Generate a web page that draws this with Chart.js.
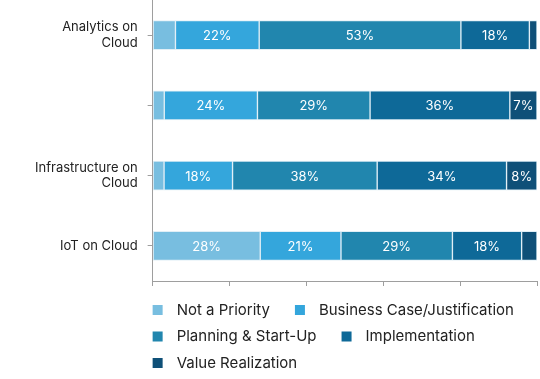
<!DOCTYPE html>
<html>
<head>
<meta charset="utf-8">
<script src="https://cdn.jsdelivr.net/npm/chart.js"></script>
<style>
  body { margin: 0; background: #fff; }
  #caja { width: 540px; height: 379px; position: relative; }
</style>
</head>
<body>
<div id="caja"><canvas id="grafica"></canvas></div>
<script>
const categorias = [["Analytics on", "Cloud"], "", ["Infrastructure on", "Cloud"], "IoT on Cloud"];

const series = ["Not a Priority", "Business Case/Justification", "Planning & Start-Up", "Implementation", "Value Realization"];
const colores = ["#78bee0", "#34a6dc", "#2186ae", "#0e6998", "#0f5078"];

// valores en %
const notPriority = [6, 3, 3, 28];
const businessCase = [22, 24, 18, 21];
const planning = [53, 29, 38, 29];
const implementation = [18, 36, 34, 18];
const valueRealization = [2, 7, 8, 4];

const valores = [notPriority, businessCase, planning, implementation, valueRealization];

// barras al 100% como en excel
const totales = categorias.map((c, j) => valores.reduce((s, v) => s + v[j], 0));

const fuente = "Inter, 'DejaVu Sans', sans-serif";
const gris = "#9e9e9e";

// etiquetas blancas dentro de cada tramo
const etiquetas = {
  id: "etiquetas",
  afterDatasetsDraw(chart) {
    const ctx = chart.ctx;
    ctx.save();
    ctx.font = "13px " + fuente;
    ctx.fillStyle = "#fff";
    ctx.textAlign = "center";
    ctx.textBaseline = "middle";
    chart.data.datasets.forEach((ds, i) => {
      chart.getDatasetMeta(i).data.forEach((bar, j) => {
        const v = valores[i][j];
        if (v < 7) return;
        ctx.fillText(v + "%", (bar.x + bar.base) / 2, bar.y + 1);
      });
    });
    ctx.restore();
  }
};

// leyenda abajo, alineada con el eje
const leyenda = {
  id: "leyenda",
  afterDraw(chart) {
    const { ctx, chartArea } = chart;
    ctx.save();
    ctx.font = "15px " + fuente;
    ctx.textBaseline = "middle";
    let x = chartArea.left;
    let y = chartArea.bottom + 29;
    chart.data.datasets.forEach(ds => {
      const w = 24 + ctx.measureText(ds.label).width;
      if (x + w > chartArea.right && x > chartArea.left) {
        x = chartArea.left;
        y += 26.5;
      }
      ctx.fillStyle = ds.backgroundColor;
      ctx.fillRect(x, y - 5, 10, 10);
      ctx.fillStyle = "#222";
      ctx.fillText(ds.label, x + 24, y);
      x += w + 25;
    });
    ctx.restore();
  }
};

new Chart(document.getElementById("grafica"), {
  type: "bar",
  data: {
    labels: categorias,
    datasets: series.map((nombre, i) => ({
      label: nombre,
      data: valores[i].map((v, j) => v / totales[j] * 100),
      backgroundColor: colores[i],
      borderColor: "rgba(220,236,245,0.85)",
      borderWidth: 1,
      borderSkipped: false,
      barThickness: 29
    }))
  },
  options: {
    indexAxis: "y",
    responsive: true,
    maintainAspectRatio: false,
    animation: false,
    layout: { padding: { left: 25, right: 3, top: 0, bottom: 93 } },
    plugins: {
      legend: { display: false },
      tooltip: { enabled: false }
    },
    scales: {
      x: {
        stacked: true,
        min: 0,
        max: 100,
        ticks: { display: false, stepSize: 20 },
        grid: { drawOnChartArea: false, tickLength: 5, color: gris },
        border: { color: gris }
      },
      y: {
        stacked: true,
        ticks: { color: "#222", font: { size: 13, family: fuente }, padding: 10 },
        grid: { drawOnChartArea: false, offset: false, tickLength: 5, color: gris },
        border: { color: gris },
        afterFit(s) {
          // que las etiquetas de dos lineas no empujen el area
          s.paddingTop = 0;
          s.paddingBottom = 0;
        }
      }
    }
  },
  plugins: [etiquetas, leyenda]
});
</script>
</body>
</html>
